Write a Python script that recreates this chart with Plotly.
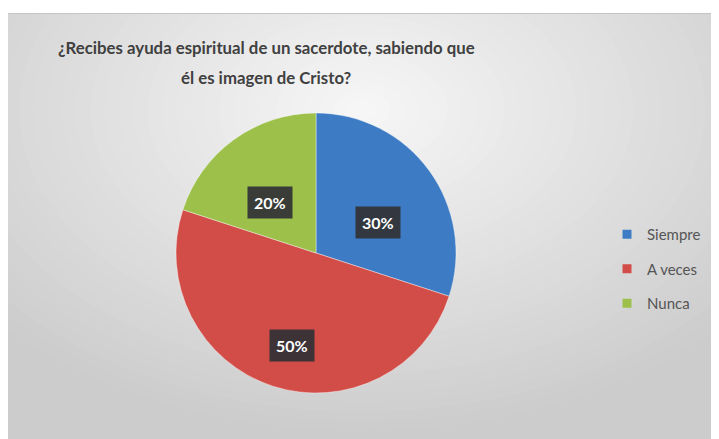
import math
import plotly.graph_objects as go

# page body has an 8px margin, so the figure is drawn at window (8, 8)
OFF = 8
W, H = 719 - OFF, 439 - OFF

# ---- data ----
title_lines = ["¿Recibes ayuda espiritual de un sacerdote, sabiendo que", "él es imagen de Cristo?"]
categories = ["Siempre", "A veces", "Nunca"]
values = [30, 50, 20]

# ---- style ----
colors = ["#3D7CC4", "#D24C48", "#9CC04A"]
label_angle_frac = [0.59, 0.48, 0.41]
label_radius_frac = [0.49, 0.68, 0.49]
FONT = "Lato"
cx, cy, R = 316, 253, 140  # pie centre / radius in window pixels


def px(x):
    return (x - OFF) / W


def py(y):
    return 1 - (y - OFF) / H


fig = go.Figure()

fig.add_trace(go.Pie(
    labels=categories,
    values=values,
    sort=False,
    direction="clockwise",
    rotation=0,
    marker=dict(colors=colors, line=dict(color="rgba(255,255,255,0.5)", width=0.8)),
    textinfo="none",
    hoverinfo="label+percent",
    showlegend=False,
    domain=dict(x=[px(cx - R), px(cx + R)], y=[py(cy + R), py(cy - R)]),
))

# legend proxies (one legend group per category so the gap matches)
for name, col in zip(categories, colors):
    fig.add_trace(go.Scatter(
        x=[None], y=[None], mode="markers", name=name, legendgroup=name,
        marker=dict(symbol="square", size=9, color=col),
    ))

# background: grey panel with radial light gradient
shapes = [dict(type="rect", xref="paper", yref="paper", x0=-0.05, x1=1.05, y0=-0.05, y1=1.05,
               fillcolor="#CCCCCC", line=dict(width=0), layer="below")]
N = 36
gx, gy, ax_, ay_ = 362, 110, 500, 330
c0, c1 = 0xCC, 0xF7
for i in range(N):
    t = i / (N - 1)
    s = 1 - t
    v = int(round(c0 + (c1 - c0) * t))
    shapes.append(dict(type="circle", xref="paper", yref="paper",
                       x0=px(gx - ax_ * s), x1=px(gx + ax_ * s),
                       y0=py(gy + ay_ * s), y1=py(gy - ay_ * s),
                       fillcolor=f"rgb({v},{v},{v})", line=dict(width=0), layer="below"))
# white strip above the panel and its thin top edge
shapes.append(dict(type="rect", xref="paper", yref="paper", x0=-0.05, x1=1.05, y0=py(13), y1=1.05,
                   fillcolor="white", line=dict(width=0), layer="below"))
shapes.append(dict(type="line", xref="paper", yref="paper", x0=0, x1=1, y0=py(13.5), y1=py(13.5),
                   line=dict(color="#C4C4C4", width=1), layer="below"))

# data labels
total = sum(values)
annotations = []
start = 0.0
for val, af, rf in zip(values, label_angle_frac, label_radius_frac):
    ang = (start + val * af) / total * 2 * math.pi
    start += val
    lx = cx + rf * R * math.sin(ang)
    ly = cy - rf * R * math.cos(ang)
    annotations.append(dict(
        x=px(lx), y=py(ly), xref="paper", yref="paper", showarrow=False,
        xanchor="center", yanchor="middle",
        text=f"<b>{val / total * 100:.0f}%</b>",
        font=dict(family=FONT, size=16, color="white"),
        bgcolor="rgba(50,50,54,0.93)", borderpad=6,
    ))

# title (two lines)
for line, ty in zip(title_lines, [47, 78]):
    annotations.append(dict(
        x=px(266), y=py(ty), xref="paper", yref="paper", showarrow=False,
        text=f"<b>{line}</b>", font=dict(family=FONT, size=16.8, color="#404040"),
        xanchor="center", yanchor="middle",
    ))

fig.update_layout(
    width=W, height=H,
    margin=dict(l=0, r=0, t=0, b=0),
    paper_bgcolor="white",
    plot_bgcolor="rgba(0,0,0,0)",
    xaxis=dict(visible=False),
    yaxis=dict(visible=False),
    shapes=shapes,
    annotations=annotations,
    showlegend=True,
    legend=dict(x=px(607), y=py(218), xanchor="left", yanchor="top",
                bgcolor="rgba(0,0,0,0)", tracegroupgap=12, itemwidth=30,
                font=dict(family=FONT, size=15, color="#555555")),
)

fig.write_html("out.html")
